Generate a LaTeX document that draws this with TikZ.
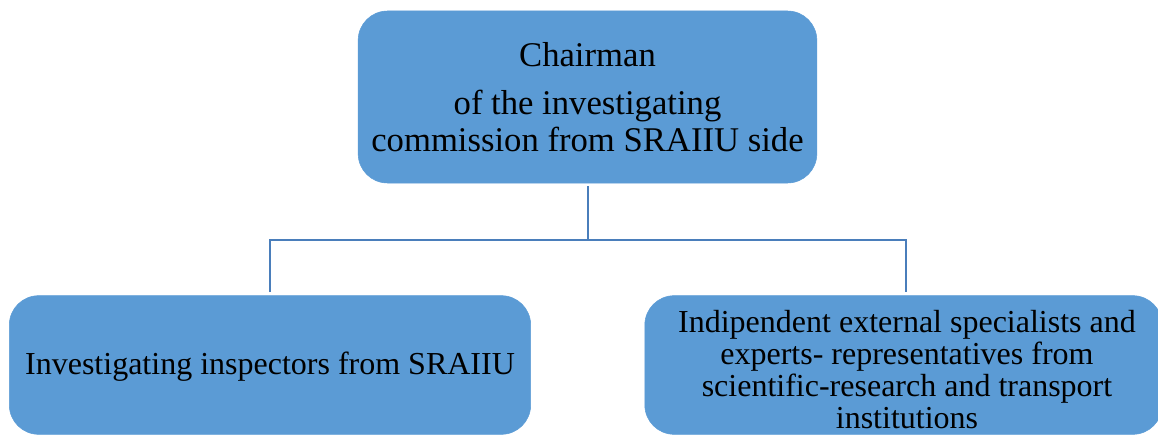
\documentclass[tikz,border=0pt]{standalone}
\usepackage{fontspec}
\setmainfont{Liberation Serif}
\definecolor{boxblue}{HTML}{5B9BD5}
\definecolor{lineblue}{HTML}{4A7EBB}
\begin{document}
\begin{tikzpicture}[x=0.75pt,y=-0.75pt,
  orgbox/.style={fill=boxblue, draw=boxblue, rounded corners=22pt, align=center, inner sep=0pt},
  boxtext/.style={align=center, inner sep=0pt},
  conn/.style={draw=lineblue, line width=1.5pt}]
\useasboundingbox (0,0) rectangle (1158,435);
\node[orgbox, minimum width=344pt, minimum height=129pt,
  font=\fontsize{26}{27.5}\selectfont] (top) at (587.5,97)
  {Chairman\\[9pt] of the investigating\\commission from SRAIIU side};
\node[orgbox, minimum width=391pt, minimum height=104pt] (left) at (270,365) {};
\node[boxtext, font=\fontsize{24}{27}\selectfont] (lefttext) at (270,367)
  {Investigating inspectors from SRAIIU};
\node[orgbox, minimum width=388pt, minimum height=104pt] (right) at (903.5,365) {};
\node[boxtext, font=\fontsize{24}{24}\selectfont] (righttext) at (907,370)
  {Indipendent external specialists and\\experts- representatives from\\scientific-research and transport\\institutions};
\coordinate (j) at (588,240);
\coordinate (lj) at (270,240);
\coordinate (rj) at (906,240);
\coordinate (ld) at (270,292);
\coordinate (rd) at (906,292);
\coordinate (tu) at (588,186);
\draw[conn] (tu) -- (j);
\draw[conn] (ld) -- (lj) -- (rj) -- (rd);
\end{tikzpicture}
\end{document}
